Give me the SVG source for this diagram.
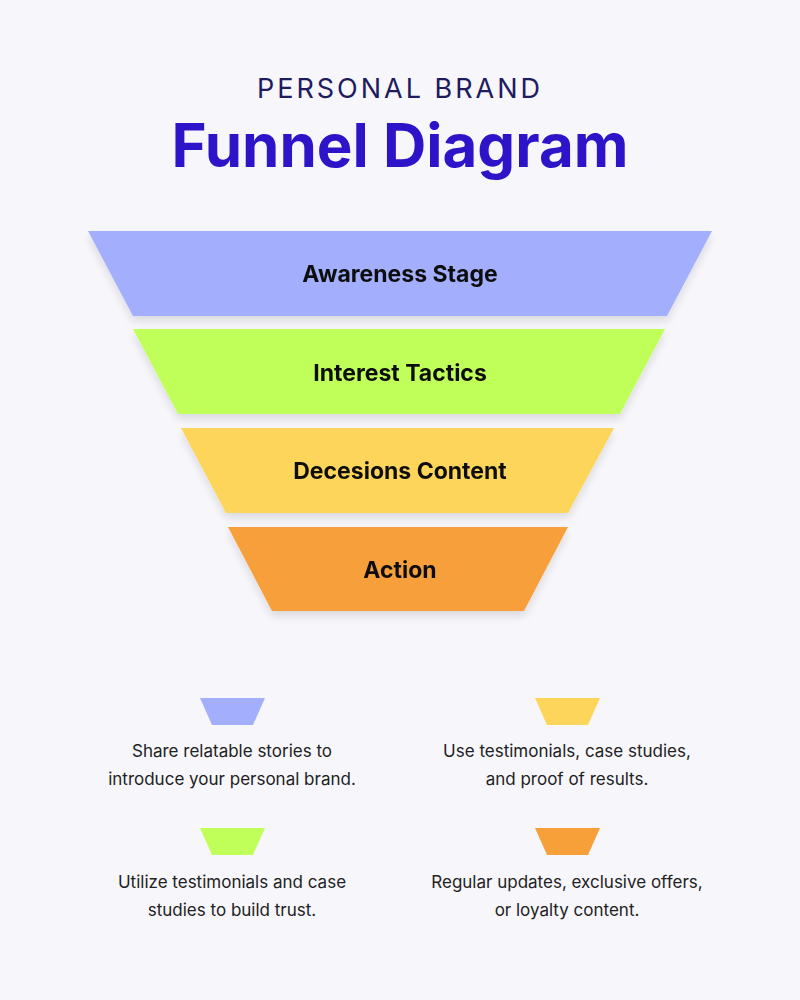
<svg xmlns="http://www.w3.org/2000/svg" width="800" height="1000" viewBox="0 0 800 1000">
<defs>
<style>
.lbl{font-family:"Inter","Liberation Sans",sans-serif;font-weight:700;font-size:23px;fill:#111;text-anchor:middle}
.txt{font-family:"Inter","Liberation Sans",sans-serif;font-size:17px;fill:#222;text-anchor:middle}
</style>
<filter id="sh" x="-10%" y="-10%" width="120%" height="140%"><feGaussianBlur in="SourceAlpha" stdDeviation="4"/><feOffset dy="5"/><feComponentTransfer><feFuncA type="linear" slope="0.12"/></feComponentTransfer><feMerge><feMergeNode/><feMergeNode in="SourceGraphic"/></feMerge></filter>
</defs>
<rect width="800" height="1000" fill="#f7f6fb"/>
<text x="400" y="98" font-family="Inter,'Liberation Sans',sans-serif" font-size="27" letter-spacing="3" fill="#1e1b5e" text-anchor="middle">PERSONAL BRAND</text>
<text x="400" y="167" font-family="Inter,'Liberation Sans',sans-serif" font-size="60" font-weight="700" fill="#2e14c8" text-anchor="middle">Funnel Diagram</text>
<g id="stage1" filter="url(#sh)"><polygon points="88,231 712,231 667,316 133,316" fill="#a3aefc"/><text class="lbl" x="400" y="282">Awareness Stage</text></g>
<g id="stage2" filter="url(#sh)"><polygon points="133,329 665,329 620,414 178,414" fill="#c0ff5a"/><text class="lbl" x="400" y="381">Interest Tactics</text></g>
<g id="stage3" filter="url(#sh)"><polygon points="181,428 614,428 568,513 226,513" fill="#fdd55a"/><text class="lbl" x="400" y="479">Decesions Content</text></g>
<g id="stage4" filter="url(#sh)"><polygon points="228,527 568,527 524,611 272,611" fill="#f7a03a"/><text class="lbl" x="400" y="578">Action</text></g>
<g id="connectors"></g>
<g id="legend1"><polygon points="200,698 265,698 253,725 212,725" fill="#a3aefc"/><text class="txt" x="232" y="757">Share relatable stories to</text><text class="txt" x="232" y="785">introduce your personal brand.</text></g>
<g id="legend3"><polygon points="535,698 600,698 588,725 547,725" fill="#fdd55a"/><text class="txt" x="567" y="757">Use testimonials, case studies,</text><text class="txt" x="567" y="785">and proof of results.</text></g>
<g id="legend2"><polygon points="200,828 265,828 253,855 212,855" fill="#c0ff5a"/><text class="txt" x="232" y="888">Utilize testimonials and case</text><text class="txt" x="232" y="916">studies to build trust.</text></g>
<g id="legend4"><polygon points="535,828 600,828 588,855 547,855" fill="#f7a03a"/><text class="txt" x="567" y="888">Regular updates, exclusive offers,</text><text class="txt" x="567" y="916">or loyalty content.</text></g>
</svg>
